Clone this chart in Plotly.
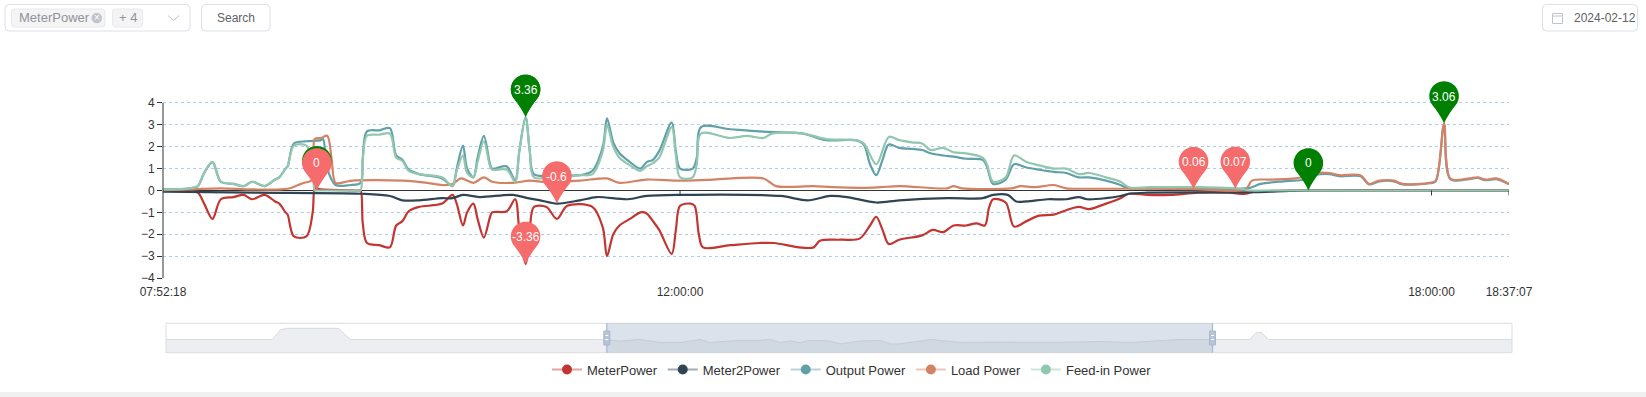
import math
import plotly.graph_objects as go

W, H = 1646, 397
DAY = "2024-02-12 "
FONT = "Liberation Sans, Arial, sans-serif"

SERIES_NAMES = ["MeterPower", "Meter2Power", "Output Power", "Load Power", "Feed-in Power"]
SERIES_COLORS = ["#c23531", "#2f4554", "#61a0a8", "#d48265", "#91c7ae"]
LEGEND_LINE_COLORS = ["rgba(194,53,49,0.45)", "rgba(47,69,84,0.45)", "rgba(97,160,168,0.45)",
                      "rgba(212,130,101,0.45)", "rgba(145,199,174,0.45)"]

X_RANGE = ["07:52:18", "18:37:07"]
X_TICKS = ["07:52:18", "12:00:00", "18:00:00", "18:37:07"]
Y_TICKS = [-4, -3, -2, -1, 0, 1, 2, 3, 4]

METER_POWER = [
    ("07:52:18", 0.0), ("08:05", -0.05), ("08:09", -0.1), ("08:12", -0.6), ("08:16", -1.3),
    ("08:20", -0.4), ("08:26", -0.3), ("08:31", -0.2), ("08:35", -0.4), ("08:41", -0.2),
    ("08:46", -0.5), ("08:48", -0.6), ("08:51", -1.0), ("08:52", -1.1), ("08:55", -2.1),
    ("09:01", -2.1), ("09:04", -1.0), ("09:05", 0.1), ("09:06", 0.08), ("09:08", 0.05),
    ("09:26", 0.0), ("09:27", 0.0),
    ("09:28", -1.5), ("09:30", -2.4), ("09:36", -2.5), ("09:41", -2.6), ("09:44", -1.6),
    ("09:47", -1.4), ("09:50", -0.95), ("09:55", -0.75), ("10:06", -0.6), ("10:11", -0.2),
    ("10:13", -0.6), ("10:16", -1.6), ("10:18", -1.0), ("10:21", -0.6), ("10:23", -1.3),
    ("10:26", -2.15), ("10:29", -1.2), ("10:30", -1.0), ("10:37", -0.95), ("10:41", -0.4),
    ("10:43", -1.8), ("10:46", -3.36), ("10:48", -1.8), ("10:50", -0.75), ("10:56", -0.75),
    ("11:01", -1.3), ("11:06", -0.7), ("11:18", -0.75), ("11:23", -1.7), ("11:25", -3.0),
    ("11:28", -2.0), ("11:31", -1.6), ("11:36", -1.3), ("11:41", -1.0), ("11:44", -1.05),
    ("11:47", -1.4), ("11:50", -1.8), ("11:56", -2.9), ("11:58", -1.8), ("12:00", -0.7),
    ("12:05", -0.6), ("12:07", -0.7), ("12:09", -2.0), ("12:11", -2.6), ("12:24", -2.5),
    ("12:38", -2.4), ("12:45", -2.4), ("12:57", -2.6), ("13:04", -2.6), ("13:07", -2.3),
    ("13:17", -2.25), ("13:26", -2.2), ("13:31", -1.6), ("13:34", -1.2), ("13:37", -1.8),
    ("13:40", -2.45), ("13:45", -2.25), ("13:56", -2.05), ("14:01", -1.8), ("14:06", -1.9),
    ("14:11", -1.6), ("14:17", -1.6), ("14:22", -1.5), ("14:26", -1.6), ("14:28", -0.8),
    ("14:30", -0.4), ("14:36", -0.55), ("14:40", -1.65), ("14:46", -1.4), ("14:52", -1.15),
    ("14:59", -1.1), ("15:05", -0.9), ("15:11", -0.75), ("15:16", -0.85), ("15:24", -0.6),
    ("15:31", -0.35), ("15:35", -0.15), ("15:44", -0.2), ("15:55", -0.2), ("16:08", -0.1),
    ("16:23", -0.1), ("16:31", -0.15), ("16:35", -0.05), ("16:57", 0.0), ("18:37:07", 0.0),
]

METER2_POWER = [
    ("07:52:18", -0.05), ("08:35", -0.1), ("09:27", -0.15), ("09:41", -0.25), ("09:47", -0.45),
    ("09:55", -0.45), ("10:06", -0.35), ("10:11", -0.35), ("10:16", -0.2), ("10:24", -0.3),
    ("10:40", -0.2), ("10:47", -0.35), ("10:53", -0.45), ("11:01", -0.6), ("11:12", -0.45),
    ("11:20", -0.3), ("11:35", -0.4), ("11:44", -0.25), ("12:00", -0.2), ("12:48", -0.25),
    ("13:01", -0.45), ("13:12", -0.25), ("13:20", -0.3), ("13:34", -0.55), ("13:45", -0.45),
    ("14:08", -0.35), ("14:25", -0.35), ("14:30", -0.2), ("14:37", -0.2), ("14:41", -0.5),
    ("14:46", -0.5), ("14:56", -0.4), ("15:05", -0.4), ("15:11", -0.3), ("15:15", -0.4),
    ("15:24", -0.35), ("15:31", -0.25), ("15:35", -0.15), ("15:44", -0.1), ("16:33", -0.08),
    ("16:52", -0.02), ("17:01", 0.0), ("18:37:07", 0.0),
]

OUTPUT_POWER = [
    ("07:52:18", 0.05), ("08:05", 0.1), ("08:09", 0.2), ("08:12", 0.8), ("08:16", 1.3),
    ("08:20", 0.4), ("08:26", 0.3), ("08:31", 0.2), ("08:35", 0.4), ("08:41", 0.2),
    ("08:46", 0.5), ("08:48", 0.6), ("08:51", 1.0), ("08:52", 1.1), ("08:55", 2.15),
    ("09:01", 2.25), ("09:08", 2.3), ("09:09", 2.35), ("09:11", 1.0), ("09:15", 0.25),
    ("09:22", 0.25), ("09:27", 0.35), ("09:28", 1.5), ("09:30", 2.7), ("09:36", 2.75),
    ("09:41", 2.85), ("09:44", 1.6), ("09:47", 1.4), ("09:50", 0.95), ("09:55", 0.75),
    ("10:06", 0.55), ("10:11", 0.2), ("10:13", 1.0), ("10:16", 2.05), ("10:18", 1.0),
    ("10:21", 0.6), ("10:23", 1.5), ("10:26", 2.5), ("10:29", 1.2), ("10:30", 1.0),
    ("10:37", 1.1), ("10:41", 0.45), ("10:43", 1.8), ("10:46", 3.36), ("10:48", 1.8),
    ("10:50", 0.75), ("11:01", 0.7), ("11:12", 0.7), ("11:18", 0.9), ("11:23", 2.0),
    ("11:25", 3.3), ("11:28", 2.2), ("11:31", 1.7), ("11:36", 1.3), ("11:41", 1.0),
    ("11:44", 1.3), ("11:47", 1.4), ("11:50", 1.8), ("11:56", 3.1), ("11:58", 1.8),
    ("12:00", 1.0), ("12:06", 1.0), ("12:08", 1.5), ("12:10", 2.9), ("12:24", 2.8),
    ("12:38", 2.7), ("12:53", 2.65), ("12:59", 2.6), ("13:10", 2.3), ("13:17", 2.3),
    ("13:24", 2.3), ("13:28", 2.1), ("13:31", 1.2), ("13:34", 0.7), ("13:37", 1.4),
    ("13:40", 2.1), ("13:45", 1.95), ("13:51", 1.9), ("13:56", 1.85), ("14:00", 1.7),
    ("14:06", 1.6), ("14:11", 1.55), ("14:17", 1.45), ("14:25", 1.4), ("14:27", 1.1),
    ("14:30", 0.3), ("14:36", 0.5), ("14:40", 1.2), ("14:46", 1.05), ("14:52", 0.95),
    ("14:59", 0.85), ("15:05", 0.8), ("15:11", 0.6), ("15:16", 0.6), ("15:24", 0.45),
    ("15:31", 0.25), ("15:34", 0.12), ("15:45", 0.1), ("16:06", 0.09), ("16:26", 0.07),
    ("16:33", 0.12), ("16:38", 0.3), ("16:49", 0.42), ("16:58", 0.48), ("17:05", 0.72),
    ("17:11", 0.75), ("17:16", 0.65), ("17:26", 0.65), ("17:30", 0.28), ("17:35", 0.42),
    ("17:42", 0.42), ("17:46", 0.28), ("17:59", 0.33), ("18:02", 0.42), ("18:06", 3.0),
    ("18:09", 0.52), ("18:18", 0.52), ("18:22", 0.57), ("18:26", 0.47), ("18:31", 0.52),
    ("18:37:07", 0.28),
]

LOAD_POWER = [
    ("07:52:18", 0.02), ("08:05", 0.05), ("08:20", 0.1), ("08:35", 0.05), ("08:52", 0.08),
    ("08:57", 0.25), ("09:00", 0.35), ("09:04", 0.5), ("09:05", 2.35), ("09:08", 2.4),
    ("09:11", 2.5), ("09:13", 1.5), ("09:15", 0.35), ("09:20", 0.4), ("09:23", 0.45),
    ("09:47", 0.45), ("09:59", 0.35), ("10:06", 0.25), ("10:11", 0.3), ("10:15", 0.55),
    ("10:21", 0.35), ("10:26", 0.6), ("10:30", 0.4), ("10:40", 0.35), ("10:48", 0.45),
    ("10:56", 0.38), ("11:12", 0.45), ("11:25", 0.55), ("11:31", 0.35), ("11:44", 0.5),
    ("12:00", 0.45), ("12:16", 0.5), ("12:40", 0.55), ("12:46", 0.2), ("13:04", 0.2),
    ("13:13", 0.15), ("13:28", 0.12), ("13:36", 0.15), ("13:45", 0.2), ("14:08", 0.1),
    ("14:11", 0.2), ("14:15", 0.1), ("14:39", 0.1), ("14:43", 0.2), ("14:50", 0.15),
    ("14:59", 0.25), ("15:05", 0.1), ("15:15", 0.08), ("15:45", 0.08), ("16:06", 0.06),
    ("16:31", 0.07), ("16:34", 0.45), ("16:43", 0.5), ("16:55", 0.55), ("17:05", 0.8),
    ("17:11", 0.8), ("17:16", 0.7), ("17:26", 0.7), ("17:30", 0.3), ("17:35", 0.45),
    ("17:42", 0.45), ("17:46", 0.3), ("17:59", 0.35), ("18:02", 0.45), ("18:06", 3.06),
    ("18:09", 0.55), ("18:18", 0.55), ("18:22", 0.6), ("18:26", 0.5), ("18:31", 0.55),
    ("18:37:07", 0.3),
]

FEEDIN_POWER = [
    ("07:52:18", 0.05), ("08:05", 0.1), ("08:09", 0.2), ("08:12", 0.8), ("08:16", 1.3),
    ("08:20", 0.4), ("08:26", 0.3), ("08:31", 0.2), ("08:35", 0.4), ("08:41", 0.2),
    ("08:46", 0.5), ("08:48", 0.6), ("08:51", 1.0), ("08:52", 1.1), ("08:55", 2.05),
    ("09:01", 2.05), ("09:04", 1.0), ("09:05", 0.0), ("09:06", 0.0), ("09:26", 0.0),
    ("09:27", 0.0), ("09:28", 1.4),
    ("09:30", 2.5), ("09:36", 2.55), ("09:41", 2.6), ("09:44", 1.5), ("09:47", 1.35),
    ("09:50", 0.9), ("09:55", 0.75), ("10:06", 0.6), ("10:11", 0.2), ("10:13", 0.9),
    ("10:16", 1.6), ("10:18", 0.8), ("10:21", 0.6), ("10:23", 1.3), ("10:26", 2.25),
    ("10:29", 1.1), ("10:30", 0.95), ("10:37", 0.95), ("10:41", 0.4), ("10:43", 1.8),
    ("10:46", 3.36), ("10:48", 1.8), ("10:50", 0.6), ("11:01", 0.65), ("11:12", 0.7),
    ("11:18", 0.75), ("11:23", 1.8), ("11:25", 3.0), ("11:28", 2.0), ("11:31", 1.5),
    ("11:36", 1.15), ("11:41", 0.9), ("11:44", 1.1), ("11:47", 1.25), ("11:50", 1.5),
    ("11:56", 2.9), ("11:58", 1.6), ("12:00", 0.6), ("12:06", 0.6), ("12:08", 1.2),
    ("12:10", 2.6), ("12:24", 2.4), ("12:32", 2.5), ("12:40", 2.4), ("12:44", 2.6),
    ("12:59", 2.6), ("13:10", 2.35), ("13:24", 2.3), ("13:28", 2.15), ("13:34", 1.2),
    ("13:40", 2.45), ("13:45", 2.3), ("13:51", 2.2), ("13:56", 2.15), ("14:00", 1.85),
    ("14:06", 1.95), ("14:11", 1.75), ("14:17", 1.7), ("14:25", 1.5), ("14:27", 1.2),
    ("14:30", 0.4), ("14:36", 0.6), ("14:40", 1.6), ("14:46", 1.3), ("14:52", 1.15),
    ("14:59", 1.0), ("15:05", 1.0), ("15:11", 0.75), ("15:16", 0.8), ("15:24", 0.6),
    ("15:31", 0.4), ("15:35", 0.15), ("15:45", 0.15), ("16:09", 0.15), ("16:28", 0.08),
    ("16:33", 0.0), ("16:40", 0.0), ("18:37:07", 0.0),
]

SERIES_DATA = [METER_POWER, METER2_POWER, OUTPUT_POWER, LOAD_POWER, FEEDIN_POWER]

# markPoint pins (max = green, min = red), in series order
PIN_TIMES = ["09:06", "10:46", "17:01", "11:01", "10:46", "16:26", "18:06", "16:06", "10:46", "09:06"]
PIN_VALUES = [0.1, -3.36, 0.0, -0.6, 3.36, 0.07, 3.06, 0.06, 3.36, 0.0]
PIN_LABELS = ["0.1", "-3.36", "0", "-0.6", "3.36", "0.07", "3.06", "0.06", "3.36", "0"]
PIN_KINDS = ["max", "min", "max", "min", "max", "min", "max", "min", "max", "min"]
PIN_COLORS = {"max": "#008000", "min": "#f66b6b"}

# dataZoom slider: data shadow (percent of slider width, relative height) and window
SHADOW_PCT = [0, 7.9, 8.5, 9.0, 12.8, 13.7, 32.2, 33.7, 35.2, 36.7, 38.2, 39.7, 40.4, 42.6,
              44.1, 44.9, 45.6, 46.4, 47.1, 47.8, 49.3, 50.1, 51.6, 53.0, 53.8, 54.5, 56.8,
              59.0, 62.0, 65.7, 69.4, 71.6, 75.3, 77.7, 80.5, 81.0, 81.4, 81.9, 100]
SHADOW_VAL = [0.45, 0.45, 0.78, 0.83, 0.83, 0.45, 0.45, 0.40, 0.45, 0.35, 0.35, 0.45, 0.35, 0.42,
              0.42, 0.45, 0.35, 0.40, 0.34, 0.42, 0.40, 0.30, 0.40, 0.42, 0.30, 0.30, 0.45,
              0.35, 0.36, 0.35, 0.38, 0.35, 0.45, 0.45, 0.45, 0.69, 0.69, 0.45, 0.45]
ZOOM_WINDOW_PCT = [32.75, 77.75]


def full_time(t):
    return DAY + (t if t.count(":") == 2 else t + ":00")


def px(fx):
    return fx / W


def py(fy):
    return 1 - fy / H


def rrect_path(x0, y0, x1, y1, r):
    pts = [
        f"M{px(x0 + r)},{py(y0)}", f"L{px(x1 - r)},{py(y0)}",
        f"Q{px(x1)},{py(y0)} {px(x1)},{py(y0 + r)}", f"L{px(x1)},{py(y1 - r)}",
        f"Q{px(x1)},{py(y1)} {px(x1 - r)},{py(y1)}", f"L{px(x0 + r)},{py(y1)}",
        f"Q{px(x0)},{py(y1)} {px(x0)},{py(y1 - r)}", f"L{px(x0)},{py(y0 + r)}",
        f"Q{px(x0)},{py(y0)} {px(x0 + r)},{py(y0)}", "Z",
    ]
    return " ".join(pts)


def pin_path(r=14.8, c=27.5):
    a = math.acos(r / c)
    th0 = -math.pi / 2 + a
    th1 = 3 * math.pi / 2 - a
    n = 28
    pts = []
    for i in range(n + 1):
        th = th0 + (th1 - th0) * i / n
        pts.append((r * math.cos(th), c + r * math.sin(th)))
    x0, y0 = pts[0]
    s = f"M0,0 Q{x0 * 0.3:.2f},{y0 * 0.45:.2f} {x0:.2f},{y0:.2f} "
    s += " ".join(f"L{x:.2f},{y:.2f}" for x, y in pts[1:])
    xl, yl = pts[-1]
    s += f" Q{xl * 0.3:.2f},{yl * 0.45:.2f} 0,0 Z"
    return s


def label(x, y, text, color, size, xanchor="center"):
    return dict(x=px(x), y=py(y), xref="paper", yref="paper", text=text, showarrow=False,
                xanchor=xanchor, yanchor="middle", font=dict(color=color, size=size, family=FONT))


fig = go.Figure()

for name, color, data in zip(SERIES_NAMES, SERIES_COLORS, SERIES_DATA):
    fig.add_trace(go.Scatter(
        x=[full_time(t) for t, _ in data], y=[v for _, v in data],
        mode="lines", name=name, showlegend=False,
        line=dict(color=color, width=2.2, shape="spline", smoothing=0.9),
        hoverinfo="skip", xaxis="x", yaxis="y",
    ))

for name, color, lcolor in zip(SERIES_NAMES, SERIES_COLORS, LEGEND_LINE_COLORS):
    fig.add_trace(go.Scatter(
        x=[None], y=[None], mode="lines+markers", name=name,
        line=dict(color=lcolor, width=2), marker=dict(color=color, size=10),
        xaxis="x", yaxis="y",
    ))

fig.add_trace(go.Scatter(
    x=SHADOW_PCT, y=SHADOW_VAL, mode="lines", fill="tozeroy",
    fillcolor="#eceef1", line=dict(color="#cfd3d8", width=0.8),
    showlegend=False, hoverinfo="skip", xaxis="x2", yaxis="y2",
))

shapes = []
annotations = []

shapes.append(dict(type="line", xref="paper", yref="y", x0=px(163), x1=px(163), y0=-4, y1=4,
                   line=dict(color="#333333", width=1), layer="above"))
for t in X_TICKS[1:]:
    shapes.append(dict(type="line", xref="x", yref="y", xsizemode="pixel", ysizemode="pixel",
                       xanchor=full_time(t), yanchor=0, x0=0, x1=0, y0=0, y1=-5,
                       line=dict(color="#333333", width=1), layer="above"))

PIN = pin_path()
seen = set()
for t, v, lab, kind in zip(PIN_TIMES, PIN_VALUES, PIN_LABELS, PIN_KINDS):
    shapes.append(dict(type="path", xref="x", yref="y", xsizemode="pixel", ysizemode="pixel",
                       xanchor=full_time(t), yanchor=v, path=PIN,
                       fillcolor=PIN_COLORS[kind], line=dict(width=0), layer="above"))
for i, (t, v, lab, kind) in enumerate(zip(PIN_TIMES, PIN_VALUES, PIN_LABELS, PIN_KINDS)):
    hidden = any(PIN_TIMES[j] == t and abs(PIN_VALUES[j] - v) < 0.3 and PIN_LABELS[j] != lab
                 for j in range(i + 1, len(PIN_TIMES)))
    key = (t, lab)
    if hidden or key in seen:
        continue
    seen.add(key)
    annotations.append(dict(x=full_time(t), y=v, xref="x", yref="y", text=lab, showarrow=False,
                            xanchor="center", yanchor="middle", yshift=27,
                            font=dict(color="white", size=12, family=FONT)))

SX0, SX1, SY0, SY1 = 166, 1512, 323.3, 352.7
shapes.append(dict(type="rect", xref="paper", yref="paper", x0=px(SX0), x1=px(SX1),
                   y0=py(SY1), y1=py(SY0), line=dict(color="#dddddd", width=1),
                   fillcolor="rgba(0,0,0,0)", layer="above"))
wx0 = SX0 + (SX1 - SX0) * ZOOM_WINDOW_PCT[0] / 100
wx1 = SX0 + (SX1 - SX0) * ZOOM_WINDOW_PCT[1] / 100
shapes.append(dict(type="rect", xref="paper", yref="paper", x0=px(wx0), x1=px(wx1),
                   y0=py(SY1), y1=py(SY0), line=dict(width=0),
                   fillcolor="rgba(167,183,204,0.4)", layer="above"))
for wx in (wx0, wx1):
    shapes.append(dict(type="line", xref="paper", yref="paper", x0=px(wx), x1=px(wx),
                       y0=py(SY1), y1=py(SY0), line=dict(color="#a7b7cc", width=1.2), layer="above"))
    shapes.append(dict(type="rect", xref="paper", yref="paper", x0=px(wx - 3), x1=px(wx + 3),
                       y0=py(345), y1=py(331), line=dict(color="#a7b7cc", width=1),
                       fillcolor="#b7c4d6", layer="above"))
    for hy in (335.5, 339.5):
        shapes.append(dict(type="line", xref="paper", yref="paper", x0=px(wx - 1.5), x1=px(wx + 1.5),
                           y0=py(hy), y1=py(hy), line=dict(color="white", width=1), layer="above"))

BORDER = "#dcdfe6"
shapes.append(dict(type="path", xref="paper", yref="paper", path=rrect_path(5, 4.5, 190, 31, 4),
                   line=dict(color=BORDER, width=1), fillcolor="white"))
shapes.append(dict(type="path", xref="paper", yref="paper", path=rrect_path(11.5, 9, 105, 27, 3),
                   line=dict(color="#e9e9eb", width=1), fillcolor="#f4f4f5"))
shapes.append(dict(type="circle", xref="paper", yref="paper", x0=px(91.5), x1=px(102),
                   y0=py(23.2), y1=py(12.7), line=dict(width=0), fillcolor="#c0c4cc"))
shapes.append(dict(type="path", xref="paper", yref="paper", path=rrect_path(112.5, 9, 142.5, 27, 3),
                   line=dict(color="#e9e9eb", width=1), fillcolor="#f4f4f5"))
shapes.append(dict(type="path", xref="paper", yref="paper",
                   path=f"M{px(168)},{py(15.5)} L{px(173.5)},{py(20.5)} L{px(179)},{py(15.5)}",
                   line=dict(color="#c0c4cc", width=1)))
shapes.append(dict(type="path", xref="paper", yref="paper", path=rrect_path(201.5, 4.5, 270, 31, 4),
                   line=dict(color=BORDER, width=1), fillcolor="white"))
shapes.append(dict(type="path", xref="paper", yref="paper", path=rrect_path(1542.5, 4.5, 1637.5, 31, 4),
                   line=dict(color=BORDER, width=1), fillcolor="white"))
shapes.append(dict(type="rect", xref="paper", yref="paper", x0=px(1552.5), x1=px(1562.5),
                   y0=py(23.5), y1=py(13.5), line=dict(color="#c0c4cc", width=1), fillcolor="white"))
shapes.append(dict(type="line", xref="paper", yref="paper", x0=px(1552.5), x1=px(1562.5),
                   y0=py(16), y1=py(16), line=dict(color="#c0c4cc", width=1)))
shapes.append(dict(type="rect", xref="paper", yref="paper", x0=0, x1=1, y0=0, y1=py(392),
                   line=dict(width=0), fillcolor="#f0f0f0"))

annotations += [
    label(17, 18, "MeterPower", "#909399", 13, "left"),
    label(96.8, 17.9, "×", "white", 10),
    label(127.5, 18, "+ 4", "#909399", 13),
    label(236, 17.8, "Search", "#606266", 12),
    label(1572, 17.8, "2024-02-12", "#606266", 12, "left"),
]

fig.update_layout(
    width=W, height=H,
    margin=dict(l=0, r=0, t=0, b=0, pad=0, autoexpand=False),
    paper_bgcolor="white", plot_bgcolor="white",
    hovermode=False,
    font=dict(family=FONT, size=12, color="#333333"),
    xaxis=dict(
        type="date", domain=[px(163), px(1509)],
        range=[full_time(X_RANGE[0]), full_time(X_RANGE[1])],
        tickmode="array", tickvals=[full_time(t) for t in X_TICKS], ticktext=X_TICKS,
        showgrid=False, showline=False, zeroline=False, ticks="", automargin=False,
        ticklabelstandoff=5,
        tickfont=dict(size=12, color="#333333", family=FONT), anchor="y",
    ),
    yaxis=dict(
        domain=[py(278), py(63.6)], range=[-4, 5.8],
        tickmode="array", tickvals=Y_TICKS, automargin=False,
        showgrid=True, gridcolor="#aecdeb", griddash="3px,3px", gridwidth=1,
        zeroline=True, zerolinecolor="#333333", zerolinewidth=1,
        showline=False, ticks="outside", ticklen=5, tickcolor="#333333",
        tickfont=dict(size=12, color="#333333", family=FONT), anchor="x",
    ),
    xaxis2=dict(domain=[px(166), px(1512)], range=[0, 100], visible=False, anchor="y2",
                automargin=False),
    yaxis2=dict(domain=[py(352.7), py(323.3)], range=[0, 1], visible=False, anchor="x2",
                automargin=False),
    legend=dict(orientation="h", x=px(852), xanchor="center", y=py(369.5), yanchor="middle",
                font=dict(size=13, color="#333333", family=FONT), itemwidth=30,
                bgcolor="rgba(0,0,0,0)"),
    shapes=shapes,
    annotations=annotations,
)

fig.write_html("out.html", config={"displayModeBar": False},
               post_script="document.body.style.margin='0px';")
